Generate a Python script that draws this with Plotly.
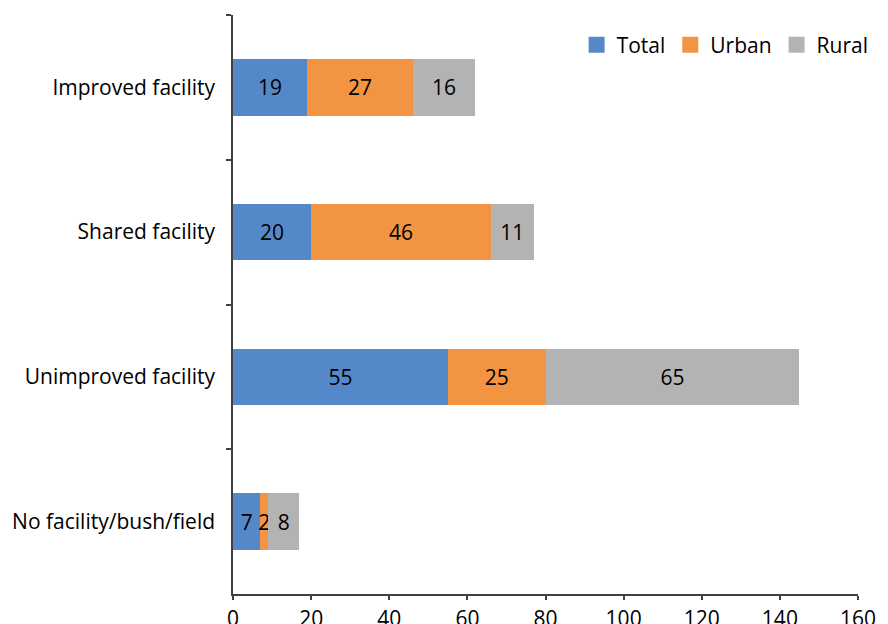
import plotly.graph_objects as go

categories = ["Improved facility", "Shared facility", "Unimproved facility", "No facility/bush/field"]
total = [19, 20, 55, 7]
urban = [27, 46, 25, 2]
rural = [16, 11, 65, 8]
x_ticks = [0, 20, 40, 60, 80, 100, 120, 140, 160]

FONT = "Open Sans"
SIZE = 21
series = [("Total", total, "#5588C8"), ("Urban", urban, "#F29441"), ("Rural", rural, "#B3B3B3")]

fig = go.Figure()
for name, vals, color in series:
    fig.add_trace(go.Bar(
        y=categories, x=vals, name=name, orientation="h", showlegend=False,
        marker=dict(color=color, line=dict(width=0)),
        text=[str(v) for v in vals], textposition="inside", insidetextanchor="middle",
        textfont=dict(color="black", size=SIZE, family=FONT), constraintext="none",
    ))
# legend entries with square swatches
for name, vals, color in series:
    fig.add_trace(go.Scatter(
        x=[None], y=[None], name=name, mode="markers",
        marker=dict(symbol="square", size=16, color=color),
    ))

fig.update_layout(
    barmode="stack", bargap=0.61,
    width=888, height=624,
    margin=dict(l=233, r=30, t=15, b=30, autoexpand=False),
    plot_bgcolor="white", paper_bgcolor="white",
    font=dict(family=FONT, size=SIZE, color="black"),
    uniformtext=dict(minsize=8, mode="show"),
    legend=dict(orientation="h", x=1.025, xanchor="right", y=0.948, yanchor="middle",
                font=dict(size=SIZE, family=FONT), traceorder="normal",
                itemwidth=30, bgcolor="rgba(0,0,0,0)", itemclick=False),
    xaxis=dict(range=[0, 160], tickvals=x_ticks, showgrid=False, zeroline=False,
               showline=True, linecolor="#404040", linewidth=1.5,
               ticks="outside", ticklen=4, tickcolor="#404040", tickwidth=1.5,
               ticklabelstandoff=1, automargin=False),
    yaxis=dict(categoryorder="array", categoryarray=categories, autorange="reversed",
               showgrid=False, showline=True, linecolor="#404040", linewidth=1.5,
               ticks="outside", tickson="boundaries", ticklen=5, tickcolor="#404040", tickwidth=1.5,
               ticklabelstandoff=12, automargin=False),
)
fig.write_html("out.html", config={"displayModeBar": False},
               post_script="document.body.style.margin='0';document.body.style.padding='0';")
